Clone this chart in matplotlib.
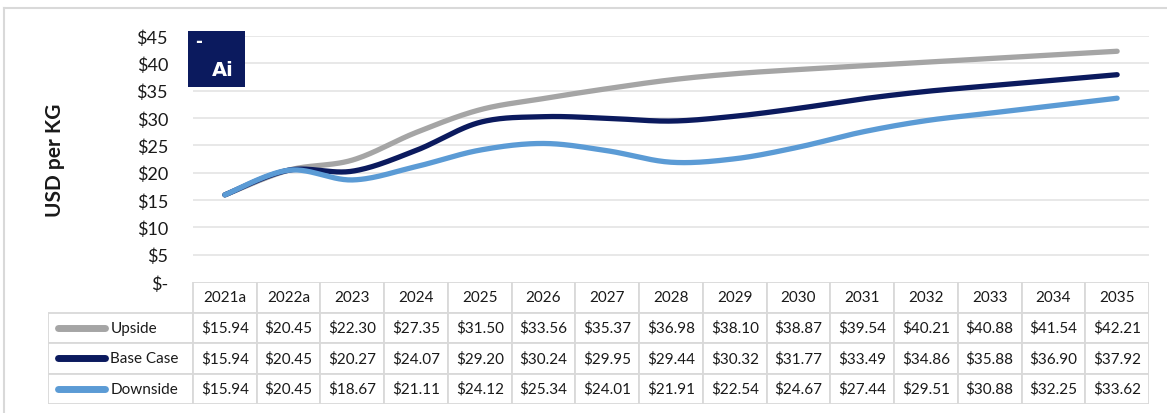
import numpy as np
import matplotlib.pyplot as plt
from matplotlib.patches import Rectangle
from matplotlib.lines import Line2D

plt.rcParams['font.family'] = ['Lato', 'DejaVu Sans']

years = ['2021a', '2022a', '2023', '2024', '2025', '2026', '2027', '2028',
         '2029', '2030', '2031', '2032', '2033', '2034', '2035']
upside = [15.94, 20.45, 22.30, 27.35, 31.50, 33.56, 35.37, 36.98,
          38.10, 38.87, 39.54, 40.21, 40.88, 41.54, 42.21]
base_case = [15.94, 20.45, 20.27, 24.07, 29.20, 30.24, 29.95, 29.44,
             30.32, 31.77, 33.49, 34.86, 35.88, 36.90, 37.92]
downside = [15.94, 20.45, 18.67, 21.11, 24.12, 25.34, 24.01, 21.91,
            22.54, 24.67, 27.44, 29.51, 30.88, 32.25, 33.62]
series_names = ['Upside', 'Base Case', 'Downside']
y_ticks = [0, 5, 10, 15, 20, 25, 30, 35, 40, 45]

colors = ['#a5a5a5', '#0b1a5e', '#5b9bd5']
grid_col = '#e4e4e4'
cell_col = '#d9d9d9'
txt_col = '#1a1a1a'

W, H = 1167, 414


def fx(px):
    return px / W


def fy(py):
    return (H - py) / H


def smooth(x, y, n=30):
    # Excel-style smoothed line: cubic bezier with catmull-rom control points
    x = np.asarray(x, float)
    y = np.asarray(y, float)
    px = np.concatenate([[x[0]], x, [x[-1]]])
    py = np.concatenate([[y[0]], y, [y[-1]]])
    xs, ys = [], []
    t = np.linspace(0, 1, n)
    for i in range(1, len(px) - 2):
        p0 = np.array([px[i], py[i]])
        p3 = np.array([px[i + 1], py[i + 1]])
        c1 = p0 + (np.array([px[i + 1], py[i + 1]]) - np.array([px[i - 1], py[i - 1]])) / 6
        c2 = p3 - (np.array([px[i + 2], py[i + 2]]) - np.array([px[i], py[i]])) / 6
        b = ((1 - t) ** 3)[:, None] * p0 + (3 * (1 - t) ** 2 * t)[:, None] * c1 \
            + (3 * (1 - t) * t ** 2)[:, None] * c2 + (t ** 3)[:, None] * p3
        xs.append(b[:, 0])
        ys.append(b[:, 1])
    return np.concatenate(xs), np.concatenate(ys)


fig = plt.figure(figsize=(W / 100, H / 100), dpi=100)

# chart area
left, right, top, bottom = 193, 1149, 37, 283
ax = fig.add_axes([fx(left), fy(bottom), fx(right - left), (bottom - top) / H])
ax.set_xlim(-0.5, len(years) - 0.5)
ax.set_ylim(0, 45)
for v in y_ticks[1:]:
    ax.axhline(v, color=grid_col, lw=1.2, zorder=0)
ax.set_yticks(y_ticks)
ax.set_yticklabels(['$-' if v == 0 else f'${v}' for v in y_ticks],
                   fontsize=13, color=txt_col)
ax.tick_params(axis='y', length=0, pad=18)
ax.set_xticks([])
for s in ax.spines.values():
    s.set_visible(False)

xi = np.arange(len(years))
for vals, c in [(upside, colors[0]), (base_case, colors[1]), (downside, colors[2])]:
    sx, sy = smooth(xi, vals)
    ax.plot(sx, sy, color=c, lw=3.8, solid_capstyle='round', zorder=3)

fig.text(fx(55), fy(160), 'USD per KG', rotation=90, ha='center', va='center',
         fontsize=15, fontweight='bold', color=txt_col)

# logo box
fig.patches.append(Rectangle((fx(188), fy(88)), fx(57), (88 - 32) / H,
                             transform=fig.transFigure, facecolor='#0b1a5e',
                             edgecolor='none', zorder=5))
fig.text(fx(199), fy(42), '-', ha='center', va='center', color='white',
         fontsize=12, fontweight='bold', family='DejaVu Sans', zorder=6)
fig.text(fx(223), fy(71), 'Ai', ha='center', va='center', color='white',
         fontsize=14, fontweight='bold', family='DejaVu Sans', zorder=6)

# data table
tl, tr, tt, tb = 48, 1149, 283, 405
tax = fig.add_axes([fx(tl), fy(tb), fx(tr - tl), (tb - tt) / H])
col_w = (right - left) / len(years)
leg_w = (left - tl) / col_w
tax.set_xlim(-0.5 - leg_w, len(years) - 0.5)
tax.set_ylim(0, 4)
tax.axis('off')

rows = [upside, base_case, downside]
lw_cell = 1.3
fs = 11
# header row
for i, yr in enumerate(years):
    tax.add_patch(Rectangle((i - 0.5, 3), 1, 1, facecolor='white',
                            edgecolor=cell_col, lw=lw_cell))
    tax.text(i, 3.5, yr, ha='center', va='center', fontsize=fs, color=txt_col)
x0 = -0.5 - leg_w
for r, (name, vals) in enumerate(zip(series_names, rows)):
    yb = 2 - r
    tax.add_patch(Rectangle((x0, yb), leg_w, 1, facecolor='white',
                            edgecolor=cell_col, lw=lw_cell))
    tax.add_line(Line2D([x0 + 0.15, x0 + 0.9], [yb + 0.5, yb + 0.5],
                        color=colors[r], lw=5, solid_capstyle='round'))
    tax.text(x0 + 0.98, yb + 0.5, name, ha='left', va='center',
             fontsize=11, color=txt_col)
    for i, v in enumerate(vals):
        tax.add_patch(Rectangle((i - 0.5, yb), 1, 1, facecolor='white',
                                edgecolor=cell_col, lw=lw_cell))
        tax.text(i, yb + 0.5, f'${v:.2f}', ha='center', va='center',
                 fontsize=fs, color=txt_col)

# outer frame (left and top edges visible)
fig.add_artist(Line2D([fx(4), fx(4)], [0, fy(9)], transform=fig.transFigure,
                      color='#d9d9d9', lw=1.5))
fig.add_artist(Line2D([fx(4), 1], [fy(9), fy(9)], transform=fig.transFigure,
                      color='#d9d9d9', lw=1.5))

fig.savefig('out.png', dpi=100)
